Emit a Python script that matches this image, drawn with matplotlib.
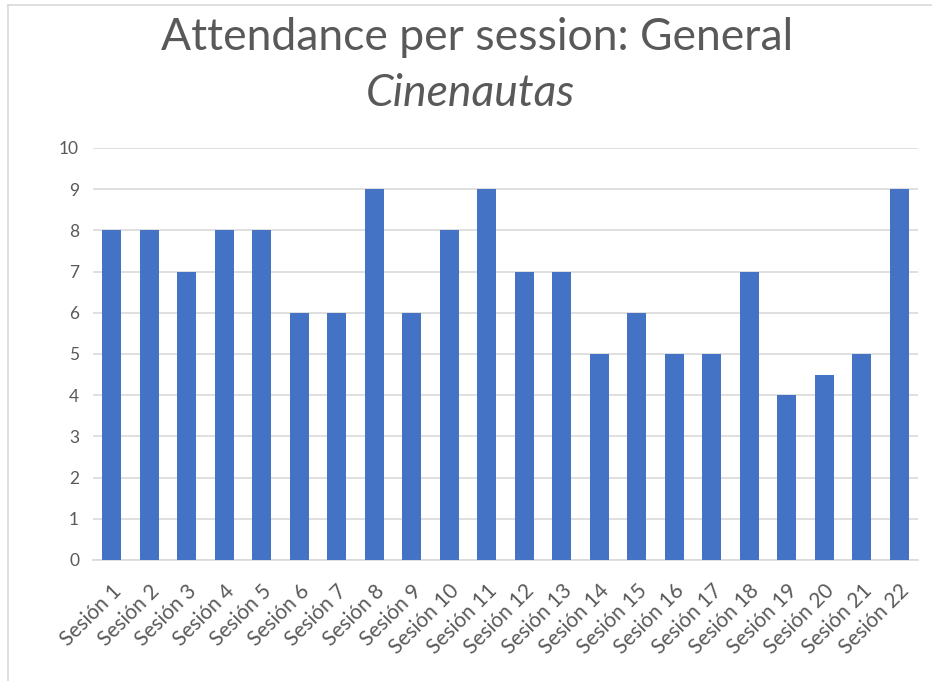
import matplotlib
matplotlib.use("Agg")
import matplotlib.pyplot as plt
from matplotlib.lines import Line2D

categories = [f"Sesión {i}" for i in range(1, 23)]
attendance = [8, 8, 7, 8, 8, 6, 6, 9, 6, 8, 9, 7, 7, 5, 6, 5, 5, 7, 4, 4.5, 5, 9]
yticks = list(range(0, 11))

title = "Attendance per session: General"
subtitle = "Cinenautas"

plt.rcParams['font.family'] = ['Lato', 'DejaVu Sans']
W, H = 932, 681
fig = plt.figure(figsize=(W / 100, H / 100), dpi=100)
ax = fig.add_axes([93 / W, 1 - 560 / H, (918 - 93) / W, (560 - 148) / H])

x = list(range(len(categories)))
ax.bar(x, attendance, width=0.5, color='#4472C4', zorder=3)
ax.set_xlim(-0.5, len(categories) - 0.5)
ax.set_ylim(0, 10)
ax.set_yticks(yticks)
ax.set_yticklabels([str(t) for t in yticks], fontsize=12.5, color='#595959')
ax.set_xticks(x)
ax.set_xticklabels(categories, rotation=45, ha='right', rotation_mode='anchor',
                   fontsize=15, color='#595959')
ax.tick_params(axis='both', length=0)
ax.tick_params(axis='y', pad=10)
ax.tick_params(axis='x', pad=15)
ax.grid(axis='y', color='#d9d9d9', linewidth=1.2, zorder=0)
for s in ['top', 'right', 'left']:
    ax.spines[s].set_visible(False)
ax.spines['bottom'].set_color('#d9d9d9')
ax.spines['bottom'].set_linewidth(1.2)

fig.text(477 / W, 1 - 37 / H, title, ha='center', va='center', fontsize=32, color='#595959')
fig.text(470 / W, 1 - 93 / H, subtitle, ha='center', va='center', fontsize=32,
         style='italic', color='#595959')

fig.add_artist(Line2D([8 / W, 8 / W], [0, 1 - 4.5 / H], transform=fig.transFigure,
                      color='#d9d9d9', linewidth=1.2))
fig.add_artist(Line2D([8 / W, 1], [1 - 4.5 / H, 1 - 4.5 / H], transform=fig.transFigure,
                      color='#d9d9d9', linewidth=1.2))

fig.savefig("out.png", dpi=100, facecolor='white')
